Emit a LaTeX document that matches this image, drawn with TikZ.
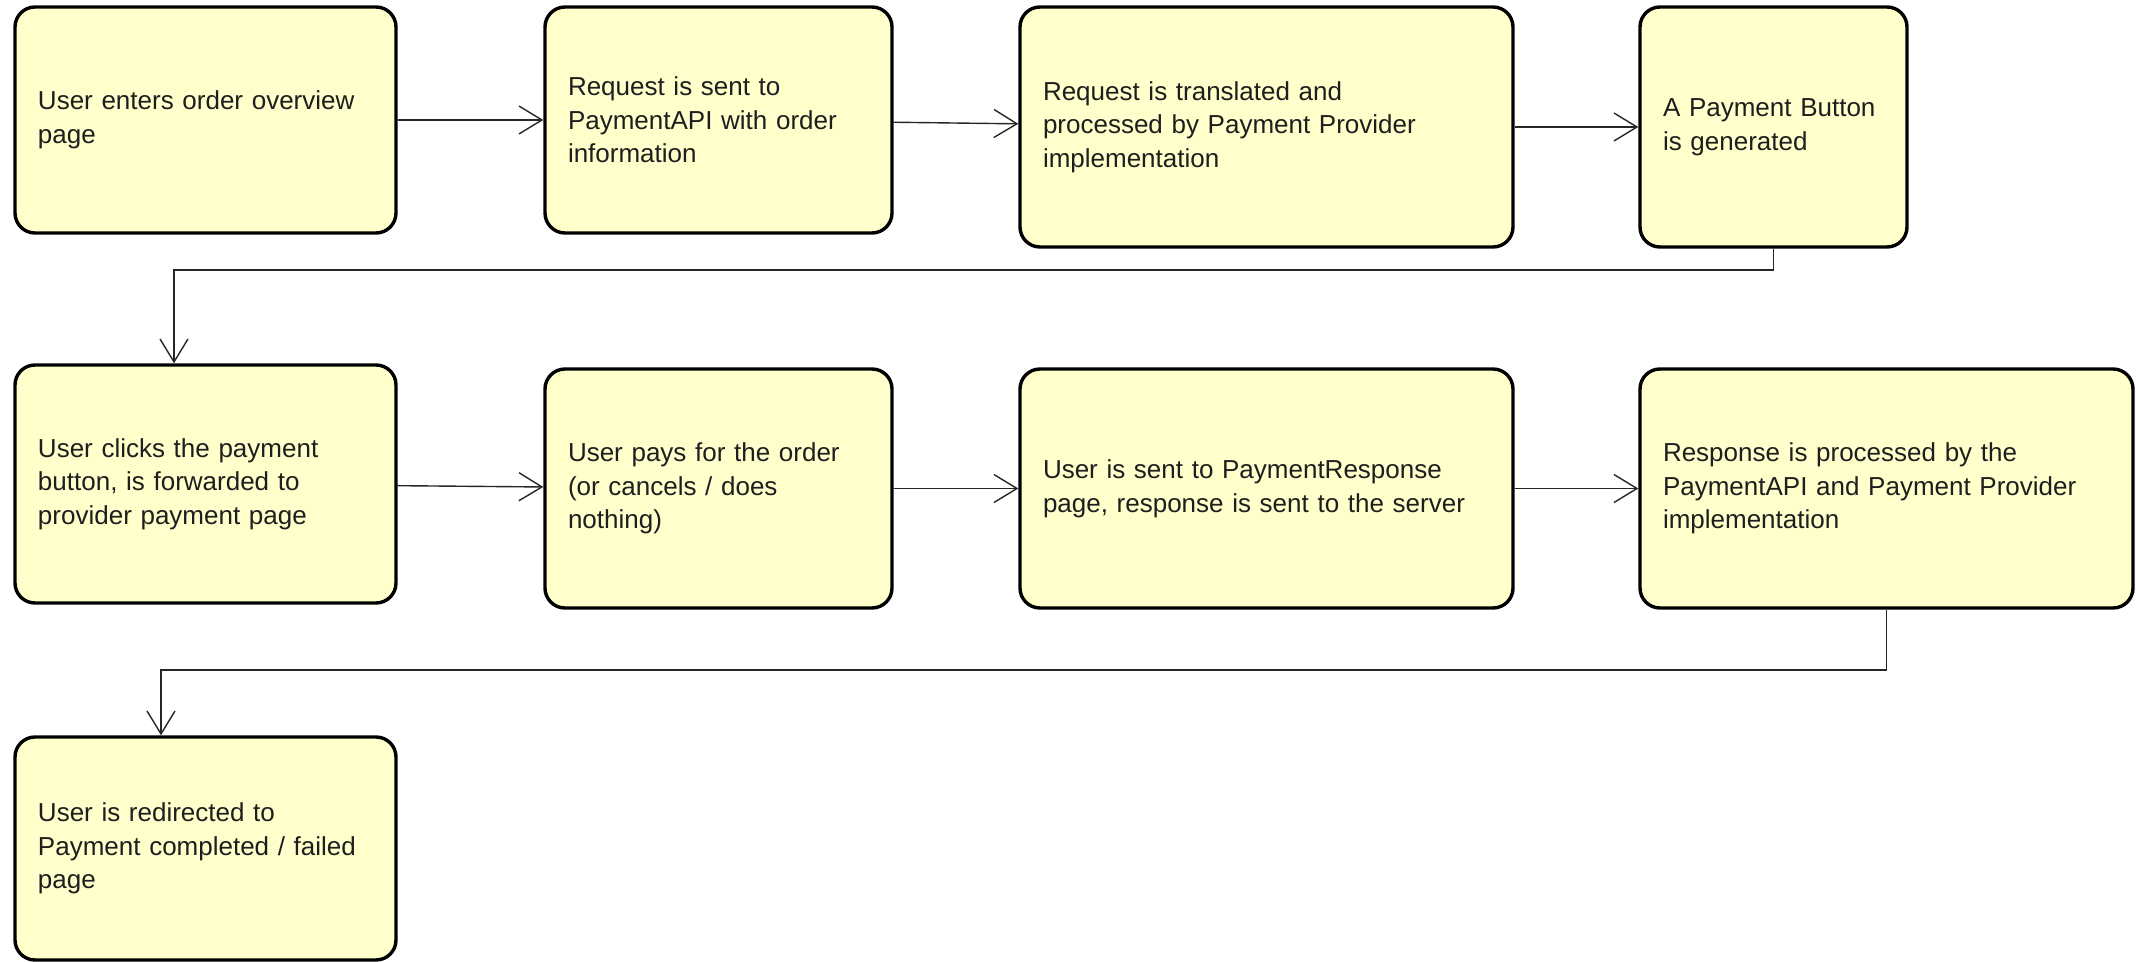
\documentclass[tikz,border=0pt]{standalone}
\usepackage{fontspec}
\setmainfont{Liberation Sans}
\usetikzlibrary{arrows.meta}
\definecolor{notefill}{RGB}{255,255,204}
\definecolor{notetext}{RGB}{30,30,30}
\tikzset{
  stepbox/.style={draw=black, line width=1.7pt, fill=notefill, rounded corners=10pt,
    inner sep=0pt, align=left, text=notetext, font=\fontsize{13pt}{16.8pt}\selectfont},
  flow/.style={draw=black!85, line width=0.7pt, -{Straight Barb[length=11.5pt,width=14pt]}}
}
\begin{document}
\begin{tikzpicture}[x=0.5pt, y=-0.5pt]
      \useasboundingbox (0,0) rectangle (2136,962);

      \node[stepbox, minimum width=190.5pt, text width=167.5pt, minimum height=113pt] (enter) at (205.5,120)
        {User enters order overview\\page};
      \node[stepbox, minimum width=173.5pt, text width=150.5pt, minimum height=113pt] (request) at (718.5,120)
        {Request is sent to\\PaymentAPI with order\\information};
      \node[stepbox, minimum width=246.5pt, text width=223.5pt, minimum height=120pt] (translate) at (1266.5,127)
        {Request is translated and\\processed by Payment Provider\\implementation};
      \node[stepbox, minimum width=133.5pt, text width=110.5pt, minimum height=120pt] (button) at (1773.5,127)
        {A Payment Button\\is generated};

      \node[stepbox, minimum width=190.5pt, text width=167.5pt, minimum height=119pt] (click) at (205.5,484)
        {User clicks the payment\\button, is forwarded to\\provider payment page};
      \node[stepbox, minimum width=173.5pt, text width=150.5pt, minimum height=119.5pt] (pay) at (718.5,488.5)
        {User pays for the order\\(or cancels / does\\nothing)};
      \node[stepbox, minimum width=246.5pt, text width=223.5pt, minimum height=119.5pt] (sent) at (1266.5,488.5)
        {User is sent to PaymentResponse\\page, response is sent to the server};
      \node[stepbox, minimum width=246.5pt, text width=223.5pt, minimum height=119.5pt] (process) at (1886.5,488.5)
        {Response is processed by the\\PaymentAPI and Payment Provider\\implementation};

      \node[stepbox, minimum width=190.5pt, text width=167.5pt, minimum height=111.5pt] (redirect) at (205.5,848.5)
        {User is redirected to\\Payment completed / failed\\page};

      \coordinate (bendone) at (174,270);
      \coordinate (bendtwo) at (161,670);

      \draw[flow] (enter) -- (request);
      \draw[flow] (request) -- (translate);
      \draw[flow] (translate) -- (button);
      \draw[flow] (button.south) |- (bendone) -- (bendone |- click.north);
      \draw[flow] (click) -- (pay);
      \draw[flow] (pay) -- (sent);
      \draw[flow] (sent) -- (process);
      \draw[flow] (process.south) |- (bendtwo) -- (bendtwo |- redirect.north);

    \end{tikzpicture}
\end{document}
